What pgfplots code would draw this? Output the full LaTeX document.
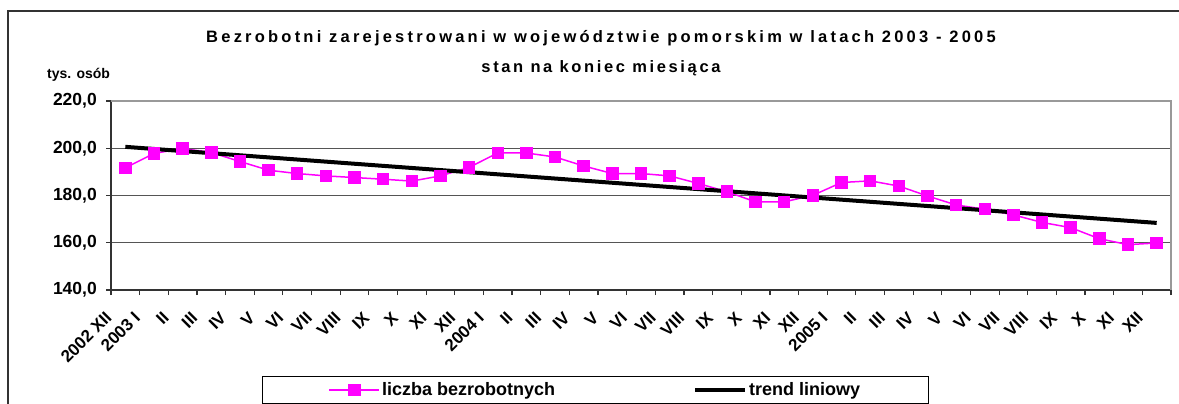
\documentclass[border=0pt]{standalone}
\usepackage{fontspec}
\setmainfont{Liberation Sans}
\newfontfamily\titlefontA[LetterSpace=19.5]{Liberation Sans}
\newfontfamily\titlefontB[LetterSpace=16]{Liberation Sans}
\usepackage{pgfplots}
\usepackage{pgfplotstable}
\pgfplotsset{compat=1.18}
\definecolor{gridc}{HTML}{555555}
\definecolor{framec}{HTML}{999999}
\definecolor{mag}{HTML}{FF00FF}
\pgfplotstableread{
x y
0 191.7
1 197.8
2 199.9
3 198.2
4 194.4
5 190.7
6 189.3
7 188.3
8 187.6
9 186.9
10 186.1
11 188.3
12 191.9
13 198.0
14 198.0
15 196.3
16 192.5
17 189.3
18 189.3
19 188.3
20 185.1
21 181.6
22 177.3
23 177.3
24 180.1
25 185.5
26 186.2
27 184.0
28 179.8
29 176.0
30 174.2
31 171.8
32 168.6
33 166.4
34 161.7
35 159.2
36 159.9
}\dataA
\pgfplotstableread{
x y
0 200.6
36 168.4
}\trend
\begin{document}
\begin{tikzpicture}[x=1pt,y=1pt]
\useasboundingbox (0pt,0pt) rectangle (1179pt,-404pt);
\draw[line width=1.5pt, color=black!80] (8pt,-1000pt) -- (8pt,-11pt) -- (2000pt,-11pt);
\node[font=\titlefontA\bfseries\fontsize{16.5}{18}\selectfont, anchor=base] at (601pt,-43pt) {Bezrobotni zarejestrowani w województwie pomorskim w latach 2003 - 2005};
\node[font=\titlefontB\bfseries\fontsize{16.5}{18}\selectfont, anchor=base] at (601pt,-73pt) {stan na koniec miesiąca};
\node[font=\bfseries\fontsize{14}{16}\selectfont, anchor=base west, inner sep=0pt] at (47pt,-78pt) {tys. osób};
\begin{axis}[
  at={(111pt,-290pt)}, anchor=south west,
  width=1060pt, height=189pt, scale only axis,
  xmin=-0.5, xmax=36.5, ymin=140, ymax=220,
  axis x line*=bottom, axis y line*=left,
  axis line style={line width=1.5pt, color=black!80},
  ytick={140,160,...,220},
  ymajorgrids, major grid style={gridc, line width=1.2pt},
  tick align=outside,
  major tick length=5pt, minor tick length=5pt,
  xtick={0,...,36},
  minor xtick={-0.5,0.5,...,36.5},
  major x tick style={draw=none},
  minor x tick style={black!80, line width=1.2pt},
  y tick style={black!80, line width=1.2pt},
  xticklabels={2002 XII,2003 I,II,III,IV,V,VI,VII,VIII,IX,X,XI,XII,2004 I,II,III,IV,V,VI,VII,VIII,IX,X,XI,XII,2005 I,II,III,IV,V,VI,VII,VIII,IX,X,XI,XII},
  xticklabel style={font=\bfseries\fontsize{17}{18}\selectfont, xshift=-16pt, yshift=-19pt, rotate=45, anchor=east, inner sep=1pt},
  yticklabel style={font=\bfseries\fontsize{17.5}{19}\selectfont, inner sep=0pt, xshift=-9pt},
  /pgf/number format/assume math mode=true,
  yticklabel={\pgfmathprintnumber[fixed, fixed zerofill, precision=1, use comma]{\tick}},
  legend columns=2,
  legend style={at={(0.1425,-0.455)}, anchor=north west, draw=black, line width=1pt,
    inner xsep=66pt, inner ysep=4pt,
    font=\bfseries\fontsize{18}{20}\selectfont,
    nodes={inner sep=2pt},
    /tikz/column 2/.style={column sep=136pt}},
  legend image code/.code={\draw[mark repeat=2,mark phase=2,#1] plot coordinates {(0pt,0pt) (25pt,0pt) (50pt,0pt)};},
  clip=false,
]
\addplot[color=mag, line width=1.5pt, mark=square*, mark size=5.5pt, mark options={solid, fill=mag}] table[x=x,y=y] {\dataA};
\addlegendentry{liczba bezrobotnych}
\addplot[color=black, line width=4pt] table[x=x,y=y] {\trend};
\addlegendentry{trend liniowy}
\draw[framec, line width=2pt] (rel axis cs:0,1) -- (rel axis cs:1,1) -- (rel axis cs:1,0);
\end{axis}
\end{tikzpicture}
\end{document}
